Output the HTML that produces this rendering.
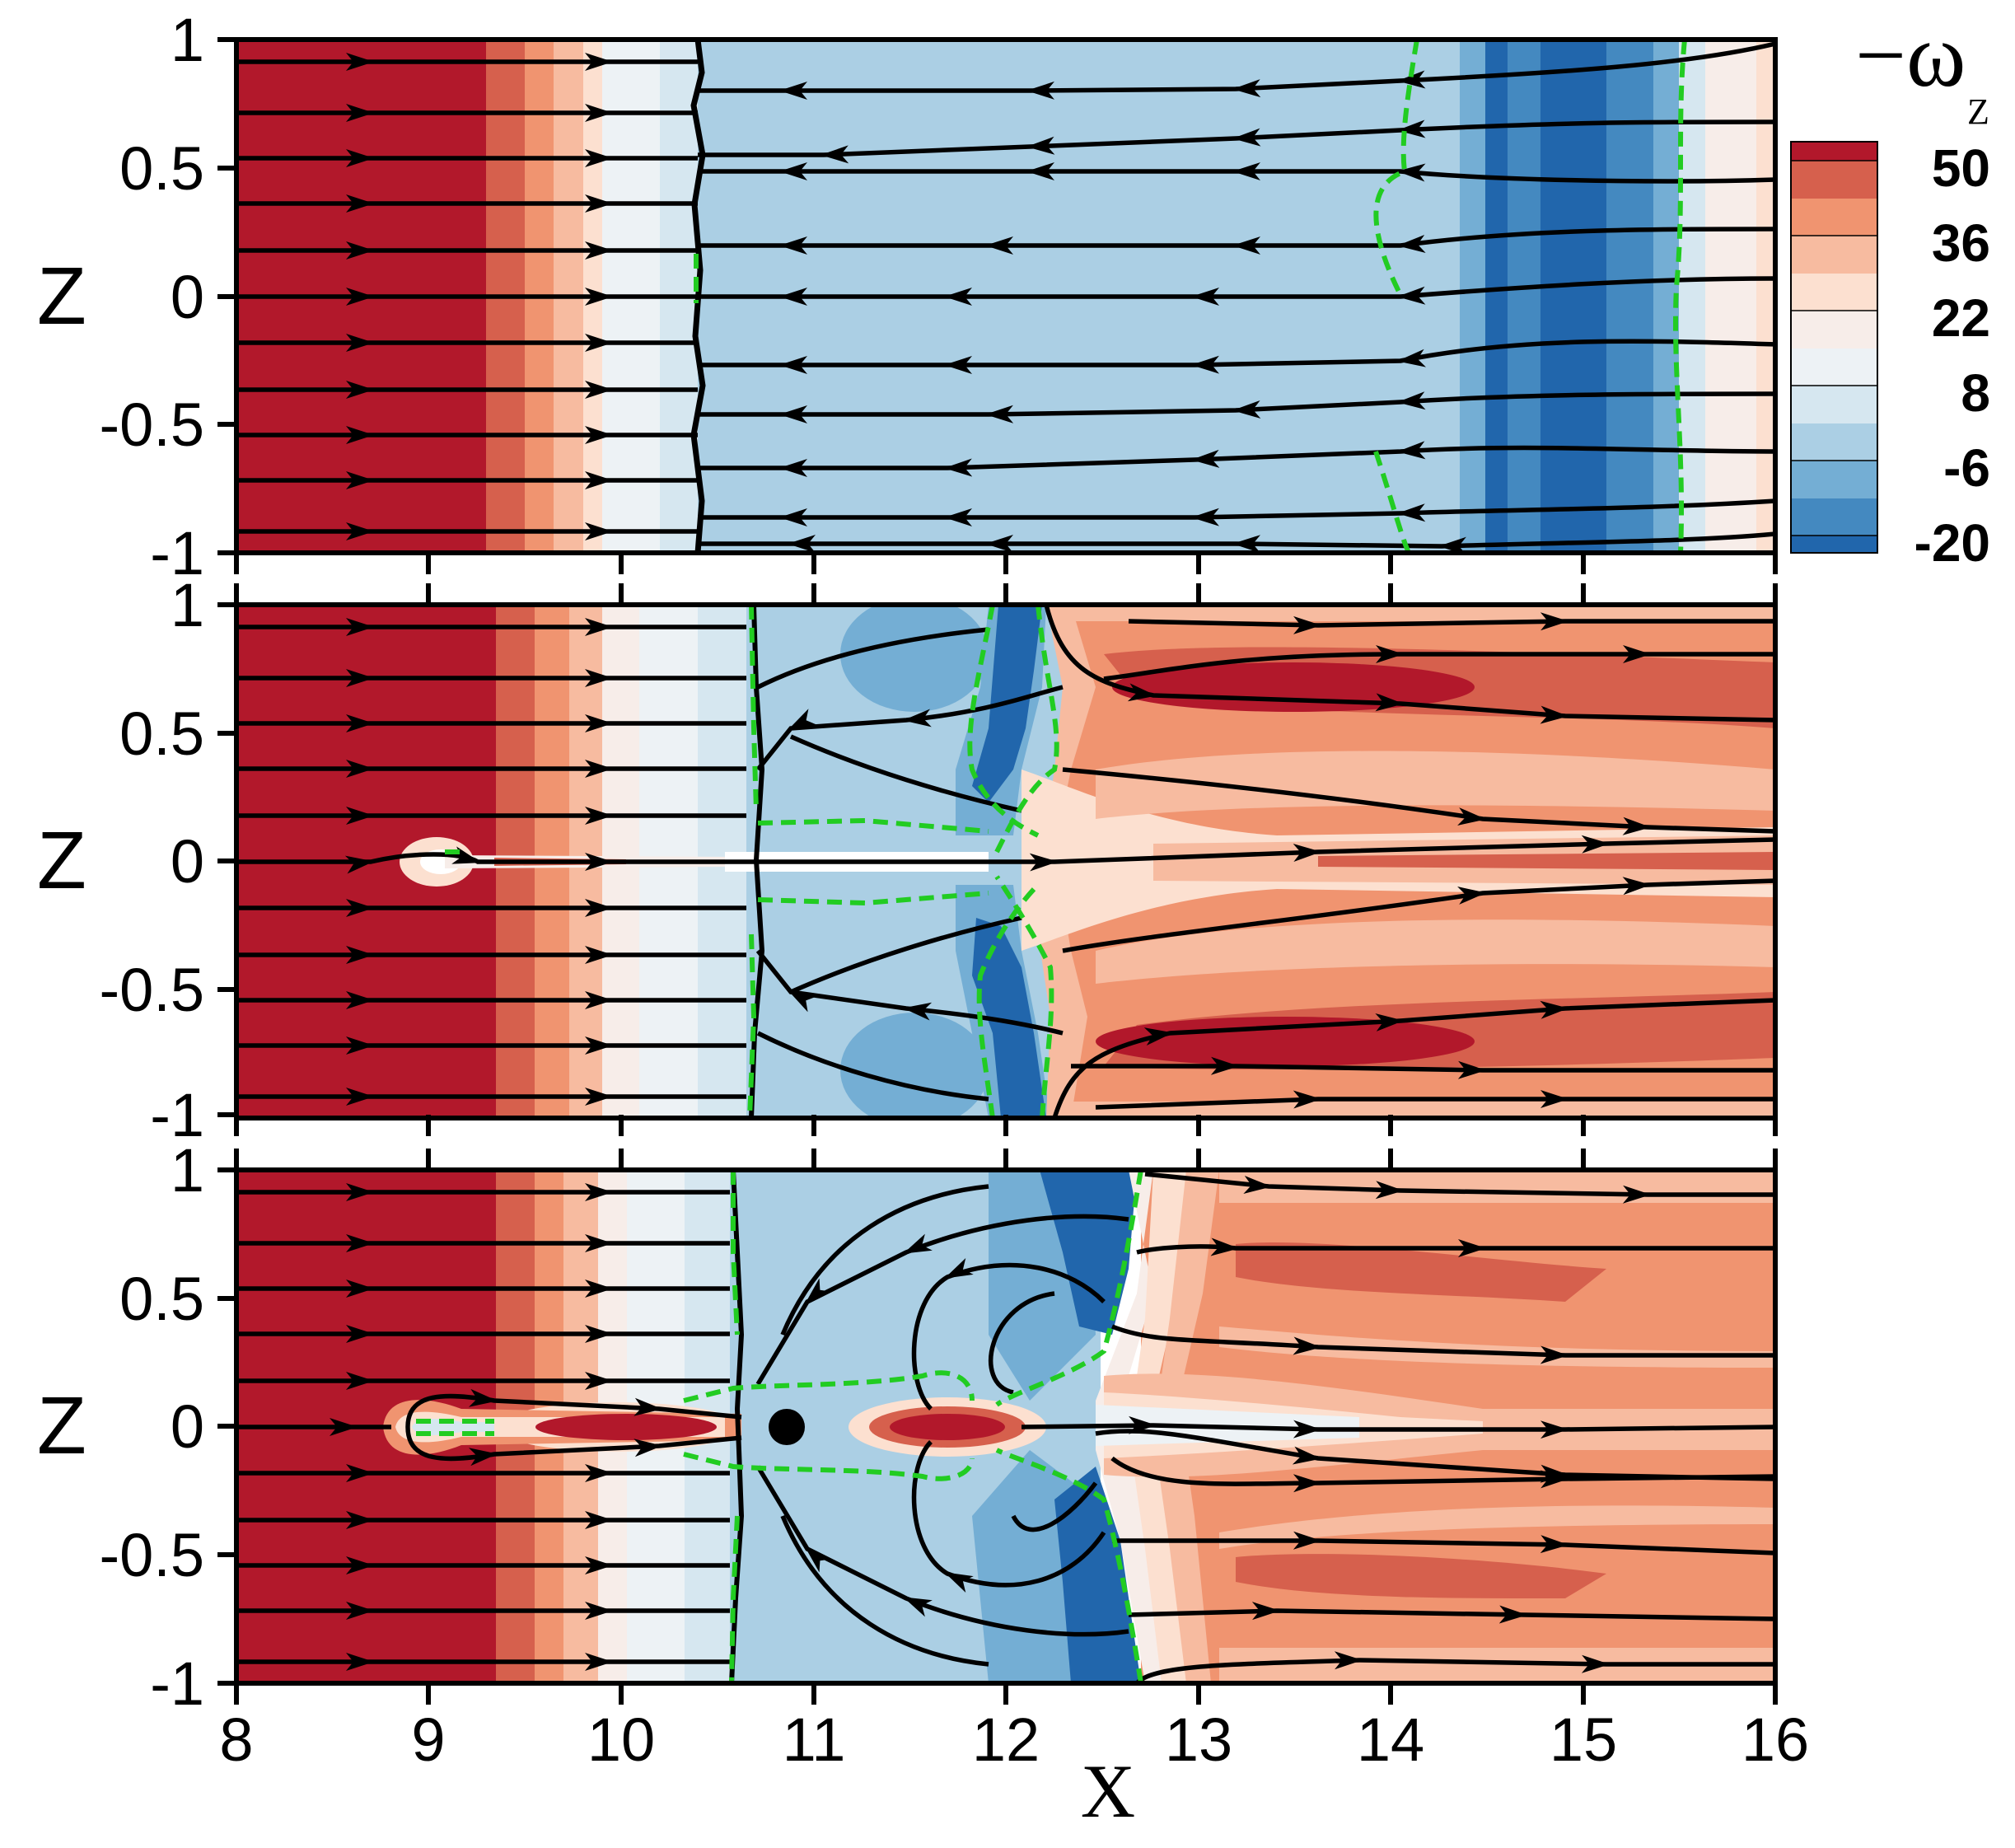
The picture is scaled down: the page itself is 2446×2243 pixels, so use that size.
<!DOCTYPE html>
<html><head><meta charset="utf-8"><style>
html,body{margin:0;padding:0;background:#fff;}
svg{display:block;}
text{font-family:"Liberation Sans",sans-serif;}
</style></head><body>
<svg width="2446" height="2243" viewBox="0 0 2446 2243" xmlns="http://www.w3.org/2000/svg">
<defs>
<marker id="a" markerUnits="userSpaceOnUse" markerWidth="44" markerHeight="30" refX="30" refY="15" orient="auto"><path d="M0,4 L34,15 L0,26 L9,15Z" fill="#000"/></marker>
<clipPath id="cp"><rect x="287" y="0" width="1868" height="623"/></clipPath>
</defs>

<!-- PANEL 1 -->
<g transform="translate(0,48)">
<g clip-path="url(#cp)">
<rect x="287" y="0" width="303" height="623" fill="#b2182b"/>
<rect x="590" y="0" width="47" height="623" fill="#d6604d"/>
<rect x="637" y="0" width="35" height="623" fill="#f09470"/>
<rect x="672" y="0" width="36" height="623" fill="#f7bba0"/>
<rect x="708" y="0" width="23" height="623" fill="#fce0d0"/>
<rect x="731" y="0" width="70" height="623" fill="#edf2f5"/>
<rect x="801" y="0" width="46" height="623" fill="#d6e7f0"/>
<rect x="847" y="0" width="925" height="623" fill="#abcfe4"/>
<rect x="1772" y="0" width="31" height="623" fill="#74aed4"/>
<rect x="1803" y="0" width="204" height="623" fill="#2166ac"/>
<rect x="1830" y="0" width="40" height="623" fill="#4489c0"/>
<rect x="1950" y="0" width="57" height="623" fill="#4489c0"/>
<rect x="2007" y="0" width="31" height="623" fill="#74aed4"/>
<rect x="2038" y="0" width="32" height="623" fill="#d6e7f0"/>
<rect x="2070" y="0" width="62" height="623" fill="#f7ede9"/>
<rect x="2132" y="0" width="23" height="623" fill="#fce0d0"/>
<g fill="none" stroke="#000" stroke-width="5.5" marker-mid="url(#a)">
<path d="M287,27 L450,27 L740,27 L847,27"/><path d="M287,89 L450,89 L740,89 L847,89"/>
<path d="M287,144 L450,144 L740,144 L847,144"/><path d="M287,199 L450,199 L740,199 L847,199"/>
<path d="M287,256 L450,256 L740,256 L847,256"/><path d="M287,312 L450,312 L740,312 L847,312"/>
<path d="M287,368 L450,368 L740,368 L847,368"/><path d="M287,425 L450,425 L740,425 L847,425"/>
<path d="M287,480 L450,480 L740,480 L847,480"/><path d="M287,535 L450,535 L740,535 L847,535"/>
<path d="M287,597 L450,597 L740,597 L847,597"/>
<path d="M2155,5 C2050,30 1900,40 1700,50 L1500,60 L1250,62 L950,62 L847,62"/>
<path d="M2155,100 C2000,100 1900,100 1700,110 L1500,120 L1250,130 L1000,140 L847,140"/>
<path d="M2155,170 C2000,175 1800,170 1700,160 L1500,160 L1250,160 L950,160 L847,160"/>
<path d="M2155,230 C2000,230 1850,230 1700,250 L1500,250 L1200,250 L950,250 L847,250"/>
<path d="M2155,290 C2000,290 1850,300 1700,312 L1450,312 L1150,312 L950,312 L847,312"/>
<path d="M2155,370 C2000,365 1850,360 1700,390 L1450,395 L1150,395 L950,395 L847,395"/>
<path d="M2155,430 C2000,430 1850,430 1700,440 L1500,450 L1200,455 L950,455 L847,455"/>
<path d="M2155,500 C2000,500 1850,490 1700,500 L1450,510 L1150,520 L950,520 L847,520"/>
<path d="M2155,560 C2000,570 1850,570 1700,575 L1450,580 L1150,580 L950,580 L847,580"/>
<path d="M2155,600 C2050,610 1900,610 1750,615 L1500,612 L1200,612 L960,612 L847,612"/>
</g>
<path d="M847,0 L852,40 L842,80 L853,140 L843,200 L850,280 L844,360 L853,420 L842,480 L852,560 L847,623" fill="none" stroke="#000" stroke-width="7"/>
<g fill="none" stroke="#22cc22" stroke-width="6" stroke-dasharray="18,10">
<path d="M1720,0 C1710,60 1700,120 1705,160 C1650,180 1670,250 1700,310"/>
<path d="M1670,500 C1690,560 1700,600 1710,623"/>
<path d="M2045,0 C2035,100 2045,200 2035,300 C2030,400 2045,500 2040,623"/>
<path d="M845,260 L845,320"/>
</g>
</g>
<rect x="287" y="0" width="1868" height="623" fill="none" stroke="#000" stroke-width="6"/>
</g>

<!-- PANEL 2 -->
<g transform="translate(0,734)">
<g clip-path="url(#cp)">
<rect x="287" y="0" width="315" height="623" fill="#b2182b"/>
<rect x="602" y="0" width="47" height="623" fill="#d6604d"/>
<rect x="649" y="0" width="42" height="623" fill="#f09470"/>
<rect x="691" y="0" width="40" height="623" fill="#f7bba0"/>
<rect x="731" y="0" width="45" height="623" fill="#f7ede9"/>
<rect x="776" y="0" width="71" height="623" fill="#edf2f5"/>
<rect x="847" y="0" width="59" height="623" fill="#d6e7f0"/>
<rect x="906" y="0" width="400" height="623" fill="#abcfe4"/>
<ellipse cx="1110" cy="60" rx="90" ry="70" fill="#74aed4"/>
<ellipse cx="1110" cy="565" rx="90" ry="70" fill="#74aed4"/>
<path d="M1200,0 L1270,0 L1265,100 L1240,200 L1230,280 L1160,280 L1160,200 L1190,100Z" fill="#74aed4"/>
<path d="M1160,340 L1230,340 L1240,420 L1260,520 L1275,623 L1200,623 L1180,520 L1160,420Z" fill="#74aed4"/>
<path d="M1212,0 L1265,0 L1255,80 L1245,150 L1230,200 L1200,240 L1180,220 L1200,150 Z" fill="#2166ac"/>
<path d="M1185,380 L1215,390 L1240,440 L1255,520 L1270,623 L1215,623 L1205,520 L1180,450Z" fill="#2166ac"/>
<rect x="1290" y="0" width="865" height="623" fill="#f09470"/>
<path d="M1270,0 L1300,0 L1330,100 L1300,200 L1280,300 L1300,420 L1320,500 L1300,623 L1270,623 L1275,500 L1260,400 L1265,300 L1280,200 L1290,100Z" fill="#f7bba0"/>
<path d="M1240,200 C1300,220 1400,270 1550,280 L2155,270 L2155,355 L1550,345 C1400,355 1300,400 1240,420Z" fill="#fce0d0"/>
<path d="M1400,290 L2155,280 L2155,340 L1400,335Z" fill="#f7bba0"/>
<path d="M1600,305 L2155,300 L2155,322 L1600,318Z" fill="#d6604d"/>
<path d="M1330,200 C1500,170 1800,170 2155,200 L2155,250 C1800,240 1500,240 1330,260Z" fill="#f7bba0"/>
<path d="M1330,420 C1500,380 1800,375 2155,390 L2155,440 C1800,430 1500,440 1330,460Z" fill="#f7bba0"/>
<path d="M1340,60 C1500,40 1900,60 2155,70 L2155,150 C1900,130 1600,140 1380,110Z" fill="#d6604d"/>
<ellipse cx="1570" cy="100" rx="220" ry="30" fill="#b2182b"/>
<path d="M1340,560 C1500,570 1900,560 2155,550 L2155,470 C1900,480 1600,480 1380,510Z" fill="#d6604d"/>
<ellipse cx="1560" cy="530" rx="230" ry="30" fill="#b2182b"/>
<rect x="1290" y="0" width="865" height="20" fill="#f7bba0"/>
<rect x="1290" y="603" width="865" height="20" fill="#f7bba0"/>
<ellipse cx="530" cy="312" rx="45" ry="30" fill="#fce0d0"/>
<ellipse cx="535" cy="312" rx="25" ry="15" fill="#fff"/>
<path d="M540,304 L900,306 L1200,308 L1200,316 L900,318 L540,320Z" fill="#f7ede9"/>
<path d="M600,307 L760,309 L760,315 L600,317Z" fill="#d6604d"/>
<rect x="880" y="300" width="320" height="24" fill="#fff"/>
<g fill="none" stroke="#000" stroke-width="5.5" marker-mid="url(#a)">
<path d="M287,27 L450,27 L740,27 L906,27"/><path d="M287,89 L450,89 L740,89 L906,89"/>
<path d="M287,144 L450,144 L740,144 L906,144"/><path d="M287,199 L450,199 L740,199 L906,199"/>
<path d="M287,256 L450,256 L740,256 L906,256"/>
<path d="M287,312 L450,312 C500,300 560,300 580,312 L740,312 L1280,312 L1600,300 L1950,290 L2155,285"/>
<path d="M287,368 L450,368 L740,368 L906,368"/><path d="M287,425 L450,425 L740,425 L906,425"/>
<path d="M287,480 L450,480 L740,480 L906,480"/><path d="M287,535 L450,535 L740,535 L906,535"/>
<path d="M287,597 L450,597 L740,597 L906,597"/>
<path d="M1270,0 C1290,80 1330,95 1400,110 L1700,120 L1900,135 L2155,140"/>
<path d="M1370,20 L1600,25 L1900,20 L2155,20"/>
<path d="M1340,90 C1420,80 1500,60 1700,60 L2000,60 L2155,60"/>
<path d="M1290,200 C1400,210 1600,230 1800,260 L2000,270 L2155,275"/>
<path d="M1290,420 C1400,400 1600,380 1800,350 L2000,340 L2155,335"/>
<path d="M1280,623 C1300,560 1330,540 1420,520 L1700,505 L1900,490 L2155,480"/>
<path d="M1330,610 L1600,600 L1900,600 L2155,600"/>
<path d="M1300,560 L1500,560 L1800,565 L2155,565"/>
<path d="M1290,100 C1250,110 1200,130 1100,140 L960,150 L920,200"/>
<path d="M1240,250 C1150,230 1050,200 960,160"/>
<path d="M1240,380 C1150,400 1050,430 960,470"/>
<path d="M1290,520 C1250,510 1200,500 1100,490 L960,470 L920,420"/>
<path d="M1200,600 C1100,590 1000,560 920,520"/>
<path d="M1200,30 C1100,40 1000,60 920,100"/>
</g>
<path d="M915,0 L918,100 L925,200 L918,310 L925,420 L916,520 L912,623" fill="none" stroke="#000" stroke-width="6"/>
<g fill="none" stroke="#22cc22" stroke-width="6" stroke-dasharray="18,10">
<path d="M912,0 L915,150 L918,250"/><path d="M912,400 L915,500 L910,623"/>
<path d="M920,265 L1050,262 L1200,275"/><path d="M920,358 L1050,362 L1200,350"/>
<path d="M1205,0 C1190,80 1170,150 1180,200 C1200,250 1240,270 1260,280"/>
<path d="M1260,0 C1270,100 1290,150 1280,200 C1250,220 1230,260 1210,300"/>
<path d="M1205,623 C1195,550 1185,500 1190,450 C1210,400 1240,360 1260,340"/>
<path d="M1265,623 C1270,550 1280,500 1275,440 C1255,400 1230,360 1210,330"/>
<path d="M540,300 L565,300"/>
</g>
</g>
<rect x="287" y="0" width="1868" height="623" fill="none" stroke="#000" stroke-width="6"/>
</g>

<!-- PANEL 3 -->
<g transform="translate(0,1420)">
<g clip-path="url(#cp)">
<rect x="287" y="0" width="315" height="623" fill="#b2182b"/>
<rect x="602" y="0" width="47" height="623" fill="#d6604d"/>
<rect x="649" y="0" width="35" height="623" fill="#f09470"/>
<rect x="684" y="0" width="42" height="623" fill="#f7bba0"/>
<rect x="726" y="0" width="35" height="623" fill="#f7ede9"/>
<rect x="761" y="0" width="70" height="623" fill="#edf2f5"/>
<rect x="831" y="0" width="55" height="623" fill="#d6e7f0"/>
<rect x="886" y="0" width="450" height="623" fill="#abcfe4"/>
<path d="M1200,0 L1320,0 L1330,200 L1250,280 L1200,200Z" fill="#74aed4"/>
<path d="M1200,623 L1340,623 L1330,400 L1250,340 L1180,420Z" fill="#74aed4"/>
<path d="M1262,0 L1380,0 L1370,120 L1350,200 L1310,190 L1290,100Z" fill="#2166ac"/>
<path d="M1280,400 L1330,360 L1360,450 L1385,623 L1300,623 L1290,500Z" fill="#2166ac"/>
<rect x="1385" y="0" width="770" height="623" fill="#f09470"/>
<path d="M1370,0 L1400,0 L1380,150 L1330,280 L1330,340 L1360,450 L1390,623 L1420,623 L1420,623 L1400,460 L1380,340 L1370,250 L1400,150Z" fill="#f7ede9"/>
<path d="M1400,0 L1440,0 L1430,150 L1400,280 L1420,420 L1440,623 L1410,623 L1390,460 L1370,320 L1390,180Z" fill="#fce0d0"/>
<path d="M1440,0 L1480,0 L1460,150 L1430,280 L1450,420 L1470,623 L1440,623 L1420,460 L1400,320 L1420,180Z" fill="#f7bba0"/>
<path d="M1340,250 C1450,240 1600,260 1800,290 L2155,290 L2155,340 L1800,340 C1600,360 1450,380 1340,370Z" fill="#f7bba0"/>
<path d="M1340,270 C1450,275 1600,290 1700,300 L1800,305 L1800,320 C1600,335 1450,345 1340,350Z" fill="#fce0d0"/>
<path d="M1330,285 L1650,300 L1650,325 L1330,335Z" fill="#edf2f5"/>
<rect x="1480" y="0" width="675" height="40" fill="#f7bba0"/>
<rect x="1480" y="580" width="675" height="43" fill="#f7bba0"/>
<path d="M1500,90 C1600,80 1800,110 1950,120 L1900,160 C1750,150 1600,150 1500,130Z" fill="#d6604d"/>
<path d="M1500,470 C1600,460 1800,470 1950,490 L1900,520 C1750,520 1600,520 1500,500Z" fill="#d6604d"/>
<path d="M1480,440 C1600,420 1800,400 2155,410 L2155,430 C1800,430 1600,440 1480,460Z" fill="#f7bba0"/>
<path d="M1480,190 C1600,200 1800,220 2155,220 L2155,240 C1800,240 1600,230 1480,215Z" fill="#f7bba0"/>
<ellipse cx="750" cy="312" rx="150" ry="30" fill="#fce0d0"/>
<path d="M465,312 C470,270 520,275 560,290 L900,296 L900,328 L560,334 C520,350 470,355 465,312Z" fill="#f09470"/>
<path d="M480,312 C485,290 520,290 560,300 L880,300 L880,324 L560,324 C520,334 485,334 480,312Z" fill="#fce0d0"/>
<path d="M500,312 C505,300 530,300 560,306 L600,306 L600,318 L560,318 C530,324 505,324 500,312Z" fill="#d6e7f0"/>
<ellipse cx="760" cy="312" rx="110" ry="16" fill="#b2182b"/>
<ellipse cx="1150" cy="312" rx="120" ry="36" fill="#fce0d0"/>
<ellipse cx="1150" cy="312" rx="95" ry="25" fill="#d6604d"/>
<ellipse cx="1150" cy="312" rx="70" ry="16" fill="#b2182b"/>
<g fill="none" stroke="#000" stroke-width="5.5" marker-mid="url(#a)">
<path d="M287,27 L450,27 L740,27 L886,27"/><path d="M287,89 L450,89 L740,89 L886,89"/>
<path d="M287,144 L450,144 L740,144 L886,144"/><path d="M287,199 L450,199 L740,199 L886,199"/>
<path d="M287,256 L450,256 L740,256 L886,256"/>
<path d="M287,312 L430,312 L475,312"/>
<path d="M287,368 L450,368 L740,368 L886,368"/><path d="M287,425 L450,425 L740,425 L886,425"/>
<path d="M287,480 L450,480 L740,480 L886,480"/><path d="M287,535 L450,535 L740,535 L886,535"/>
<path d="M287,597 L450,597 L740,597 L886,597"/>
<path d="M495,312 C495,270 540,270 600,280 L800,290 L900,300"/>
<path d="M495,312 C495,355 540,355 600,345 L800,335 L900,325"/>
<path d="M1240,312 L1400,310 L1600,315 L1900,315 L2155,312"/>
<path d="M1390,5 L1540,20 L1700,25 L2000,30 L2155,30"/>
<path d="M1380,100 C1400,95 1450,90 1500,95 L1800,95 L2155,95"/>
<path d="M1350,190 C1400,210 1450,205 1600,215 L1900,225 L2155,225"/>
<path d="M1330,320 C1390,310 1450,325 1600,350 L1900,370 L2155,375"/>
<path d="M1350,350 C1400,390 1500,380 1600,380 L1900,375 L2155,372"/>
<path d="M1350,450 L1600,450 L1900,455 L2155,465"/>
<path d="M1370,540 L1550,535 L1850,540 L2155,545"/>
<path d="M1380,623 C1400,600 1500,600 1650,595 L1950,600 L2155,600"/>
<path d="M1370,60 C1300,50 1200,60 1100,100 L980,160 L920,260"/>
<path d="M1340,160 C1300,120 1230,100 1150,130 C1100,160 1100,260 1130,290"/>
<path d="M1280,150 C1200,160 1180,260 1230,270"/>
<path d="M1370,560 C1300,570 1200,560 1100,520 L980,460 L920,360"/>
<path d="M1340,440 C1300,500 1230,520 1150,490 C1100,460 1100,360 1130,330"/>
<path d="M1330,380 C1300,420 1250,460 1230,420"/>
<path d="M1200,20 C1100,30 1000,80 950,200"/>
<path d="M1200,600 C1100,590 1000,540 950,420"/>
</g>
<path d="M890,0 L895,100 L900,200 L895,290 L897,340 L900,420 L893,520 L888,623" fill="none" stroke="#000" stroke-width="6"/>
<circle cx="955" cy="312" r="22" fill="#000"/>
<g fill="none" stroke="#22cc22" stroke-width="6" stroke-dasharray="18,10">
<path d="M890,0 L890,100 L895,200"/><path d="M895,420 L890,520 L888,623"/>
<path d="M830,280 L890,265 C950,260 1050,262 1120,250 C1150,240 1180,250 1180,280"/>
<path d="M830,345 L890,360 C950,365 1050,362 1120,372 C1150,380 1180,370 1180,350"/>
<path d="M1385,0 C1375,60 1360,150 1340,220 C1300,250 1230,270 1210,285"/>
<path d="M1385,623 C1375,560 1360,470 1340,400 C1300,370 1230,350 1210,340"/>
<path d="M505,305 L600,305"/><path d="M505,320 L600,320"/>
</g>
</g>
<rect x="287" y="0" width="1868" height="623" fill="none" stroke="#000" stroke-width="6"/>
</g>

<!-- ticks -->
<g stroke="#000" stroke-width="6">
<path d="M287,671 v26 M520,671 v26 M754,671 v26 M988,671 v26 M1221,671 v26 M1455,671 v26 M1688,671 v26 M1922,671 v26 M2155,671 v26"/>
<path d="M287,734 v-26 M520,734 v-26 M754,734 v-26 M988,734 v-26 M1221,734 v-26 M1455,734 v-26 M1688,734 v-26 M1922,734 v-26 M2155,734 v-26"/>
<path d="M287,1353 v26 M520,1353 v26 M754,1353 v26 M988,1353 v26 M1221,1353 v26 M1455,1353 v26 M1688,1353 v26 M1922,1353 v26 M2155,1353 v26"/>
<path d="M287,1420 v-26 M520,1420 v-26 M754,1420 v-26 M988,1420 v-26 M1221,1420 v-26 M1455,1420 v-26 M1688,1420 v-26 M1922,1420 v-26 M2155,1420 v-26"/>
<path d="M287,2043 v26 M520,2043 v26 M754,2043 v26 M988,2043 v26 M1221,2043 v26 M1455,2043 v26 M1688,2043 v26 M1922,2043 v26 M2155,2043 v26"/>
<path d="M264,48 h23 M264,204 h23 M264,360 h23 M264,515 h23 M264,671 h23"/>
<path d="M264,734 h23 M264,890 h23 M264,1045 h23 M264,1201 h23 M264,1353 h23"/>
<path d="M264,1420 h23 M264,1576 h23 M264,1731 h23 M264,1887 h23 M264,2043 h23"/>
</g>

<!-- y tick labels -->
<g font-size="74" text-anchor="end" fill="#000">
<text x="248" y="74">1</text><text x="248" y="230">0.5</text><text x="248" y="386">0</text><text x="248" y="541">-0.5</text><text x="248" y="697">-1</text>
<text x="248" y="760">1</text><text x="248" y="916">0.5</text><text x="248" y="1071">0</text><text x="248" y="1227">-0.5</text><text x="248" y="1379">-1</text>
<text x="248" y="1446">1</text><text x="248" y="1602">0.5</text><text x="248" y="1757">0</text><text x="248" y="1913">-0.5</text><text x="248" y="2069">-1</text>
</g>
<g font-size="98" style="font-family:'Liberation Serif',serif" fill="#000">
<text x="45" y="393">Z</text><text x="45" y="1078">Z</text><text x="45" y="1764">Z</text>
</g>
<g font-size="74" text-anchor="middle" fill="#000">
<text x="287" y="2137">8</text><text x="520" y="2137">9</text><text x="754" y="2137">10</text><text x="988" y="2137">11</text><text x="1221" y="2137">12</text><text x="1455" y="2137">13</text><text x="1688" y="2137">14</text><text x="1922" y="2137">15</text><text x="2155" y="2137">16</text>
</g>
<text x="1345" y="2205" font-size="92" text-anchor="middle" style="font-family:'Liberation Serif',serif">X</text>

<!-- colorbar -->
<g>
<rect x="2174" y="172" width="105" height="23" fill="#b2182b"/>
<rect x="2174" y="195" width="105" height="46" fill="#d6604d"/>
<rect x="2174" y="241" width="105" height="45" fill="#f09470"/>
<rect x="2174" y="286" width="105" height="46" fill="#f7bba0"/>
<rect x="2174" y="332" width="105" height="45" fill="#fce0d0"/>
<rect x="2174" y="377" width="105" height="46" fill="#f7ede9"/>
<rect x="2174" y="423" width="105" height="45" fill="#edf2f5"/>
<rect x="2174" y="468" width="105" height="46" fill="#d6e7f0"/>
<rect x="2174" y="514" width="105" height="45" fill="#abcfe4"/>
<rect x="2174" y="559" width="105" height="46" fill="#74aed4"/>
<rect x="2174" y="605" width="105" height="45" fill="#4489c0"/>
<rect x="2174" y="650" width="105" height="21" fill="#2166ac"/>
<g stroke="#000" stroke-width="1.5"><path d="M2174,195 h105 M2174,286 h105 M2174,377 h105 M2174,468 h105 M2174,559 h105 M2174,650 h105"/></g>
<rect x="2174" y="172" width="105" height="499" fill="none" stroke="#000" stroke-width="2"/>
<g font-size="64" font-weight="bold" text-anchor="end" fill="#000">
<text x="2416" y="226">50</text><text x="2416" y="317">36</text><text x="2416" y="408">22</text><text x="2416" y="499">8</text><text x="2416" y="590">-6</text><text x="2416" y="681">-20</text>
</g>
<text x="2252" y="104" font-size="110" style="font-family:'Liberation Serif',serif">−ω</text>
<text x="2388" y="150" font-size="44" style="font-family:'Liberation Serif',serif">Z</text>
</g>
</svg>
</body></html>
